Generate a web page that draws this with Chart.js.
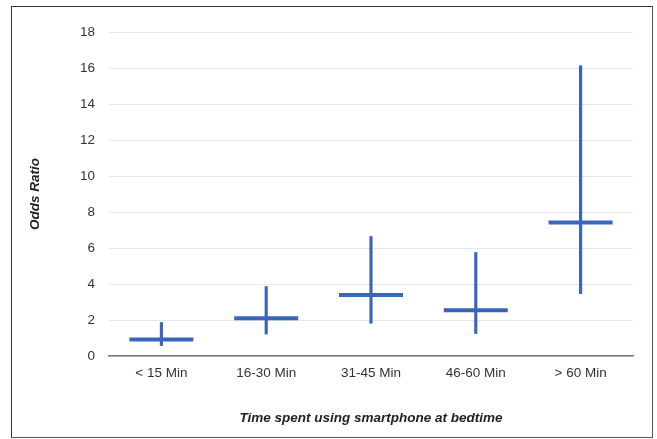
<!DOCTYPE html>
<html>
<head>
<meta charset="utf-8">
<title>Odds Ratio by smartphone time</title>
<script src="https://cdn.jsdelivr.net/npm/chart.js@4/dist/chart.umd.min.js"></script>
<style>
  html, body { margin: 0; padding: 0; background: #fff; }
  #wrap { position: relative; width: 657px; height: 439px; }
  #frame {
    position: absolute; left: 11px; top: 6px; width: 640px; height: 430px;
    border: 1px solid #555; border-top-color: #333; border-left-color: #333;
    pointer-events: none;
  }
  canvas { display: block; }
</style>
</head>
<body>
<div id="wrap">
  <canvas id="orChart" width="657" height="439"></canvas>
  <div id="frame"></div>
</div>
<script>
  // Data
  const categories = ['< 15 Min', '16-30 Min', '31-45 Min', '46-60 Min', '> 60 Min'];
  const oddsRatio = [0.91, 2.10, 3.39, 2.54, 7.42];
  const ciLow = [0.58, 1.22, 1.82, 1.25, 3.47];
  const ciHigh = [1.86, 3.86, 6.64, 5.75, 16.13];
  const yTicks = [0, 2, 4, 6, 8, 10, 12, 14, 16, 18];

  const blue = '#3b64bd';
  const fontFamily = '"Liberation Sans", Arial, Helvetica, sans-serif';

  // floating bars for the confidence intervals
  const ciRanges = categories.map((c, i) => [ciLow[i], ciHigh[i]]);

  const ctx = document.getElementById('orChart').getContext('2d');
  new Chart(ctx, {
    data: {
      labels: categories,
      datasets: [
        {
          type: 'bar',
          label: '95% CI',
          data: ciRanges,
          backgroundColor: blue,
          borderWidth: 0,
          barThickness: 2.5,
          order: 2
        },
        {
          type: 'line',
          label: 'Odds Ratio',
          data: oddsRatio,
          showLine: false,
          pointStyle: 'line',
          pointRadius: 32,
          pointHoverRadius: 32,
          pointBorderWidth: 4,
          pointHoverBorderWidth: 4,
          borderColor: blue,
          backgroundColor: blue,
          order: 1
        }
      ]
    },
    options: {
      responsive: false,
      animation: false,
      // big "line" points would otherwise push the chart area inwards
      layout: { autoPadding: false, padding: { left: 12, top: 32, right: 24, bottom: 0 } },
      plugins: {
        legend: { display: false },
        tooltip: { enabled: false }
      },
      scales: {
        x: {
          grid: { display: false },
          border: { display: true, color: '#777', width: 1.5 },
          ticks: {
            color: '#333',
            padding: 1,
            font: { family: fontFamily, size: 13.5 }
          },
          title: {
            display: true,
            text: 'Time spent using smartphone at bedtime',
            color: '#222',
            padding: { bottom: 13 },
            font: { family: fontFamily, size: 13.5, weight: 'bold', style: 'italic' }
          },
          afterFit: s => { s.height = 83; }
        },
        y: {
          min: 0,
          max: 18,
          afterBuildTicks: s => { s.ticks = yTicks.map(v => ({ value: v })); },
          grid: { color: '#e3e8ec', lineWidth: 1, drawTicks: false },
          border: { display: false },
          ticks: {
            color: '#333',
            padding: 14,
            font: { family: fontFamily, size: 13.5 }
          },
          title: {
            display: true,
            text: 'Odds Ratio',
            color: '#222',
            padding: { top: 15 },
            font: { family: fontFamily, size: 13.5, weight: 'bold', style: 'italic' }
          },
          afterFit: s => { s.width = 97; }
        }
      }
    }
  });
</script>
</body>
</html>
